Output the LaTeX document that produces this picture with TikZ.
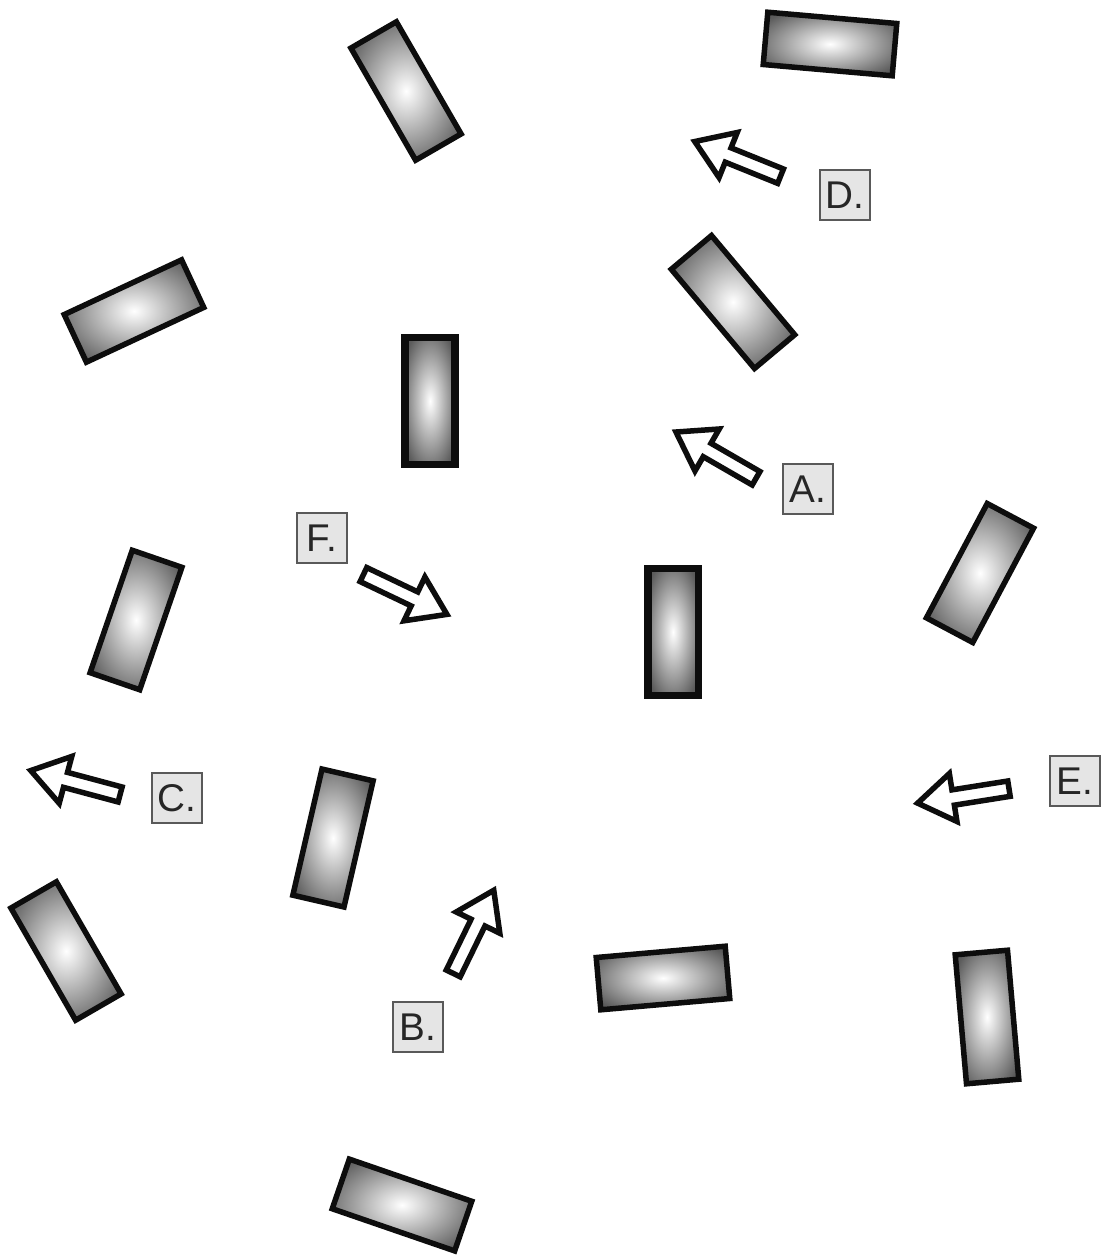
\documentclass[tikz,border=0pt]{standalone}
\usepackage{fontspec}
\setmainfont{Liberation Sans}
\usetikzlibrary{shapes.arrows}

\pgfdeclareradialshading{glow}{\pgfpoint{0bp}{0bp}}{
    color(0bp)=(white); color(30bp)=(black!64); color(72bp)=(black!74)
}

\begin{document}
\begin{tikzpicture}[x=0.02cm, y=-0.02cm]
    \tikzstyle{block} = [
        rectangle, draw=black!95, line width=0.11cm, shade, shading=glow,
        minimum width=2.59cm, minimum height=1.05cm, inner sep=0pt
    ]

    \tikzstyle{dark_block} = [
        block, line width=0.15cm, minimum width=2.55cm, minimum height=1.01cm
    ]

    \tikzstyle{move} = [
        single arrow, draw=black!95, fill=white, line width=0.11cm,
        minimum height=1.85cm, inner sep=0.1cm,
        single arrow head extend=0.33cm, single arrow tip angle=68
    ]

    \tikzstyle{tag} = [
        rectangle, draw=black!65, fill=black!10, line width=0.6pt,
        minimum size=1cm, inner sep=0pt, text=black!85,
        font=\fontsize{22}{26}\selectfont
    ]

    \useasboundingbox (0,0) rectangle (1108,1259);

    % Blocks, top to bottom
    \node[block, rotate=-60] (r1) at (406,91) {};
    \node[block, rotate=-5] (r2) at (830,44) {};
    \node[block, rotate=25] (r3) at (134,311) {};
    \node[dark_block, rotate=90] (r4) at (430,401) {};
    \node[block, rotate=-50] (r5) at (733,302) {};
    \node[block, rotate=62] (r6) at (980,573) {};
    \node[dark_block, rotate=90] (r7) at (673,632) {};
    \node[block, rotate=71] (r8) at (136,620) {};
    \node[block, rotate=77] (r9) at (333,838) {};
    \node[block, rotate=-60] (r10) at (66,951) {};
    \node[block, rotate=5] (r11) at (663,978) {};
    \node[block, rotate=95] (r12) at (987,1017) {};
    \node[block, rotate=-19] (r13) at (402,1205) {};

    % Arrows
    \node[move, rotate=150] (arr_a) at (721,458) {};
    \node[move, rotate=64] (arr_b) at (471,937) {};
    \node[move, rotate=165] (arr_c) at (81,784) {};
    \node[move, rotate=158] (arr_d) at (743,161) {};
    \node[move, rotate=189] (arr_e) at (969,795) {};
    \node[move, rotate=-25.5] (arr_f) at (400,592) {};

    % Labels
    \node[tag] (lbl_a) at (808,489) {A.};
    \node[tag] (lbl_b) at (418,1027) {B.};
    \node[tag] (lbl_c) at (177,798) {C.};
    \node[tag] (lbl_d) at (845,195) {D.};
    \node[tag] (lbl_e) at (1075,781) {E.};
    \node[tag] (lbl_f) at (322,538) {F.};

\end{tikzpicture}
\end{document}
